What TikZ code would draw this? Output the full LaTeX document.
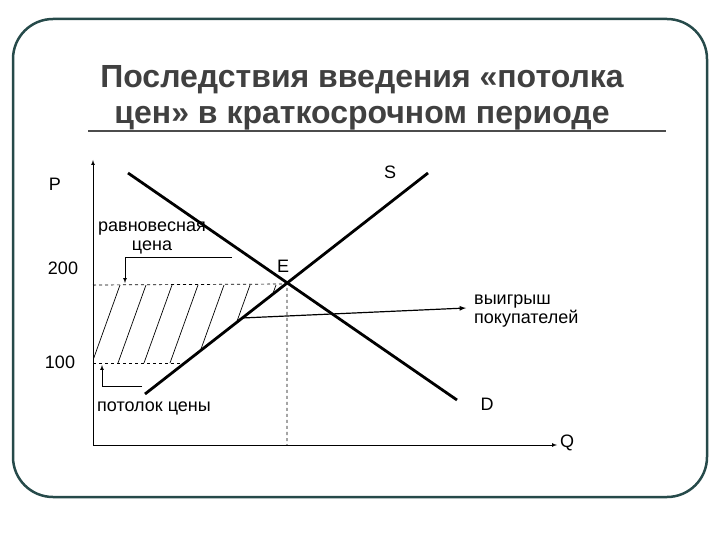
\documentclass[tikz,border=0pt]{standalone}
\usepackage{fontspec}
\setmainfont{Liberation Sans}
\begin{document}
\begin{tikzpicture}[x=1pt,y=-1pt,
  curve/.style={line width=2.8pt},
  thin/.style={line width=0.7pt},
  lbl/.style={font=\fontsize{18}{19}\selectfont, inner sep=0pt},
  >=latex]
\useasboundingbox (0,0) rectangle (720,540);
\draw[line width=2.5pt, color=black!60!teal!70!gray, rounded corners=40pt] (13,19) rectangle (707,497);
\node[font=\bfseries\fontsize{32}{36}\selectfont, align=center, text=black!75] (title) at (362,98) {Последствия введения «потолка\\цен» в краткосрочном периоде};
\draw[line width=1.8pt, black!70] (88,131) -- (666,131);
% hatch
\begin{scope}
\clip (93,285) -- (287,285) -- (185,363) -- (93,363) -- cycle;
\foreach \x in {40,66,...,330} \draw[thin] (\x,363) -- (\x+28,285);
\end{scope}
\coordinate (O) at (93,445);
\coordinate (Ytop) at (93,160);
\coordinate (Xend) at (557,445);
\draw[thin,->] (O) -- (Ytop);
\draw[thin,->] (O) -- (Xend);
\coordinate (E) at (287,284);
\coordinate (S1) at (145,394); \coordinate (S2) at (428,173);
\coordinate (D1) at (128,173); \coordinate (D2) at (457,400);
\draw[curve] (S1) -- (S2);
\draw[curve] (D1) -- (D2);
\draw[thin,dashed] (93,285) -- (E) -- (287,445);
\draw[thin,dashed] (93,363) -- (185,363);
% annotations
\coordinate (a1) at (232,257); \coordinate (a2) at (125,257); \coordinate (a3) at (125,283);
\draw[thin,->] (a1) -- (a2) -- (a3);
\coordinate (b1) at (142,386); \coordinate (b2) at (102,386); \coordinate (b3) at (102,365);
\draw[thin,->] (b1) -- (b2) -- (b3);
\coordinate (g1) at (242,318); \coordinate (g2) at (466,308);
\draw[line width=1.2pt,->] (g1) -- (g2);
\node[lbl] (P) at (55,184) {P};
\node[lbl] (S) at (390,172) {S};
\node[lbl] (l200) at (63,268) {200};
\node[lbl] (l100) at (60,362) {100};
\node[lbl] (El) at (283,266) {E};
\node[lbl] (Dl) at (487,404) {D};
\node[lbl] (Ql) at (567,443) {Q};
\node[lbl, align=center] (eq) at (152,238) {равновесная\\цена};
\node[lbl, anchor=west] (pot) at (97,408) {потолок цены};
\node[lbl, align=left, anchor=west] (gain) at (474,311) {выигрыш\\покупателей};
\end{tikzpicture}
\end{document}
